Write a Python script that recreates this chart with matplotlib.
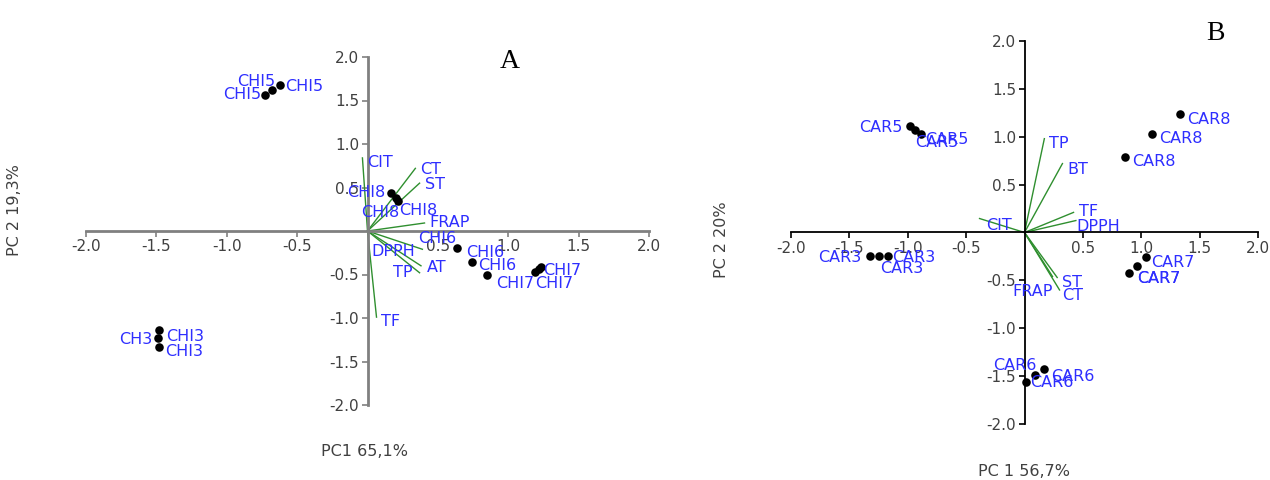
import matplotlib
matplotlib.use("Agg")
import matplotlib.pyplot as plt
import numpy as np

# ---------------- Panel A data ----------------
a_score_labels = ["CHI5", "CHI5", "CHI5", "CHI8", "CHI8", "CHI8",
                  "CHI6", "CHI6", "CHI6", "CHI7", "CHI7", "CHI7",
                  "CHI3", "CH3", "CHI3"]
a_score_x = [-0.725, -0.675, -0.625, 0.17, 0.206, 0.22,
             0.633, 0.739, 0.846, 1.187, 1.215, 1.23,
             -1.478, -1.49, -1.478]
a_score_y = [1.563, 1.62, 1.68, 0.437, 0.38, 0.345,
             -0.195, -0.356, -0.506, -0.47, -0.437, -0.41,
             -1.138, -1.23, -1.333]
a_load_labels = ["CIT", "CT", "ST", "FRAP", "DPPH", "AT", "TP", "TF"]
a_load_x = [-0.036, 0.34, 0.37, 0.405, 0.39, 0.38, 0.37, 0.064]
a_load_y = [0.84, 0.72, 0.55, 0.092, -0.21, -0.40, -0.48, -0.99]

# ---------------- Panel B data ----------------
b_score_labels = ["CAR5", "CAR5", "CAR5", "CAR8", "CAR8", "CAR8",
                  "CAR7", "CAR7", "CAR7", "CAR3", "CAR3", "CAR3",
                  "CAR6", "CAR6", "CAR6"]
b_score_x = [-0.983, -0.94, -0.889, 1.333, 1.094, 0.863,
             1.043, 0.966, 0.897, -1.325, -1.248, -1.17,
             0.17, 0.094, 0.01]
b_score_y = [1.115, 1.07, 1.03, 1.24, 1.03, 0.79,
             -0.26, -0.354, -0.427, -0.25, -0.25, -0.25,
             -1.427, -1.49, -1.56]
b_load_labels = ["TP", "BT", "TF", "DPPH", "CIT", "ST", "CT", "FRAP"]
b_load_x = [0.17, 0.325, 0.42, 0.44, -0.385, 0.28, 0.30, 0.24]
b_load_y = [0.98, 0.72, 0.21, 0.125, 0.146, -0.47, -0.60, -0.46]

ticks = [-2.0, -1.5, -1.0, -0.5, 0.5, 1.0, 1.5, 2.0]

# label offsets (pixels) and horizontal alignment -- layout only
a_score_off = [(-4, 1, 'right'), (-16, 9, 'center'), (6, -2, 'left'),
               (-6, 0, 'right'), (-16, -15, 'center'), (1, -10, 'left'),
               (0, 9, 'right'), (-5, 9, 'left'), (-8, 10, 'left'),
               (0, -12, 'right'), (-3, -14, 'left'), (3, -4, 'left'),
               (7, -6, 'left'), (-5, -1, 'right'), (6, -5, 'left')]
a_load_off = [(5, -5, 'left'), (5, -1, 'left'), (5, -1, 'left'), (5, 0, 'left'),
              (-7, -2, 'right'), (6, -2, 'left'), (-7, 0, 'right'), (4, -4, 'left')]
b_score_off = [(-7, -2, 'right'), (10, -9, 'left'), (-6, -9, 'left'),
               (7, -6, 'left'), (7, -5, 'left'), (7, -5, 'left'),
               (5, -5, 'left'), (0, -12, 'left'), (8, -5, 'left'),
               (-8, -1, 'right'), (1, -12, 'left'), (4, -1, 'left'),
               (7, -7, 'left'), (1, 10, 'right'), (4, -1, 'left')]
b_load_off = [(5, -5, 'left'), (5, -6, 'left'), (5, 1, 'left'), (1, -6, 'left'),
              (7, -7, 'left'), (5, -5, 'left'), (3, -6, 'left'), (0, -15, 'right')]

plt.rcParams['font.family'] = ['DejaVu Sans']
BLUE = '#2e2eff'
GREEN = '#2f8f2f'
TICKC = '#404040'
LBL_FS = 11.5
TICK_FS = 11

fig = plt.figure(figsize=(12.7, 4.8), dpi=100)
axA = fig.add_axes([86 / 1270, 1 - 405 / 480, 563 / 1270, 348 / 480])
axB = fig.add_axes([791 / 1270, 1 - 424 / 480, 467 / 1270, 383 / 480])


def draw(ax, sx, sy, slab, soff, lx, ly, llab, loff, spine_color, spine_w):
    ax.set_xlim(-2, 2)
    ax.set_ylim(-2, 2)
    for s in ['top', 'right']:
        ax.spines[s].set_visible(False)
    for s in ['left', 'bottom']:
        ax.spines[s].set_position(('data', 0))
        ax.spines[s].set_color(spine_color)
        ax.spines[s].set_linewidth(spine_w)
    ax.set_xticks(ticks)
    ax.set_yticks(ticks)
    ax.set_xticklabels([f"{t:.1f}" for t in ticks])
    ax.set_yticklabels([f"{t:.1f}" for t in ticks])
    ax.tick_params(axis='both', direction='out', length=4, width=1.2,
                   color=spine_color, labelcolor=TICKC, labelsize=TICK_FS, pad=2)
    ax.patch.set_alpha(0)
    for x, y in zip(lx, ly):
        ax.plot([0, x], [0, y], color=GREEN, lw=1.0, zorder=2)
    for x, y, t, (dx, dy, ha) in zip(lx, ly, llab, loff):
        ax.annotate(t, (x, y), xytext=(dx, dy), textcoords='offset pixels',
                    ha=ha, va='center', color=BLUE, fontsize=LBL_FS, zorder=4)
    ax.scatter(sx, sy, s=38, color='black', zorder=3, linewidths=0)
    for x, y, t, (dx, dy, ha) in zip(sx, sy, slab, soff):
        ax.annotate(t, (x, y), xytext=(dx, dy), textcoords='offset pixels',
                    ha=ha, va='center', color=BLUE, fontsize=LBL_FS, zorder=4)


draw(axA, a_score_x, a_score_y, a_score_labels, a_score_off,
     a_load_x, a_load_y, a_load_labels, a_load_off, '#808080', 2.0)
draw(axB, b_score_x, b_score_y, b_score_labels, b_score_off,
     b_load_x, b_load_y, b_load_labels, b_load_off, 'black', 1.3)

fig.text(510 / 1270, 1 - 62 / 480, "A", fontsize=20, family='Liberation Serif',
         ha='center', va='center', color='black')
fig.text(1215 / 1270, 1 - 33 / 480, "B", fontsize=20, family='Liberation Serif',
         ha='center', va='center', color='black')

fig.text(364 / 1270, 1 - 452 / 480, "PC1 65,1%", fontsize=LBL_FS, color=TICKC,
         ha='center', va='center')
fig.text(15 / 1270, 1 - 210 / 480, "PC 2 19,3%", fontsize=LBL_FS, color=TICKC,
         ha='center', va='center', rotation=90)
fig.text(1024 / 1270, 1 - 471 / 480, "PC 1 56,7%", fontsize=LBL_FS, color=TICKC,
         ha='center', va='center')
fig.text(722 / 1270, 1 - 240 / 480, "PC 2 20%", fontsize=LBL_FS, color=TICKC,
         ha='center', va='center', rotation=90)

fig.savefig("out.png", dpi=100)
